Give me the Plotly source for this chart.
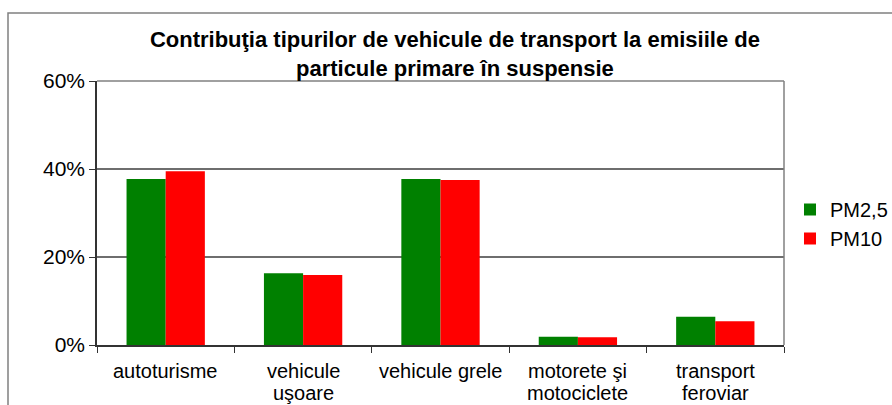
import plotly.graph_objects as go

# Vehicle categories and their share of primary particulate emissions (%)
categories = [
    "autoturisme",
    "vehicule<br>uşoare",
    "vehicule grele",
    "motorete şi<br>motociclete",
    "transport<br>feroviar",
]
pm25 = [37.7, 16.3, 37.7, 1.9, 6.4]
pm10 = [39.5, 15.9, 37.5, 1.75, 5.4]
y_ticks = [0, 20, 40, 60]
y_tick_labels = ["0%", "20%", "40%", "60%"]

FONT = "Liberation Sans, Arial, sans-serif"

fig = go.Figure()
fig.add_trace(go.Bar(name="PM2,5", x=categories, y=pm25,
                     marker=dict(color="#008000", line=dict(width=0))))
fig.add_trace(go.Bar(name="PM10", x=categories, y=pm10,
                     marker=dict(color="#ff0000", line=dict(width=0))))

W, H = 892, 405
L, R, T, B = 97, 108, 81, 60
plot_w = W - L - R
plot_h = H - T - B


def px_x(px):
    return (px - L) / plot_w


def px_y(py):
    return (H - B - py) / plot_h


fig.update_layout(
    width=W, height=H,
    margin=dict(l=L, r=R, t=T, b=B, autoexpand=False),
    paper_bgcolor="white",
    plot_bgcolor="white",
    barmode="group",
    bargap=0.43,
    bargroupgap=0,
    font=dict(family=FONT, size=20, color="#000000"),
    title=dict(
        text="Contribuţia tipurilor de vehicule de transport la emisiile de<br>particule primare în suspensie",
        font=dict(family=FONT, size=22, color="#000000", weight="bold"),
        x=0.51, xanchor="center",
        y=1 - 47 / H, yanchor="top",
    ),
    legend=dict(
        x=px_x(790), y=px_y(190), xanchor="left", yanchor="top",
        font=dict(family=FONT, size=20),
        bgcolor="rgba(0,0,0,0)",
        itemwidth=30,
        tracegroupgap=0,
    ),
    showlegend=True,
)

fig.update_xaxes(
    type="category",
    showline=True, linecolor="#333333", linewidth=1.5,
    ticks="outside", tickson="boundaries", ticklen=6, tickcolor="#333333",
    showticklabels=False,
    showgrid=False,
)
fig.update_yaxes(
    range=[0, 60],
    tickvals=y_ticks, ticktext=y_tick_labels,
    showline=True, linecolor="#333333", linewidth=1.5,
    ticks="outside", ticklen=6, tickcolor="#333333",
    tickfont=dict(family=FONT, size=21),
    showgrid=True, gridcolor="#6e6e6e", gridwidth=1.5,
    zeroline=False,
)

# Category labels, one annotation per line so the line spacing stays tight
LINE_CENTERS = [371, 393]
for cat in categories:
    for i, line in enumerate(cat.split("<br>")):
        fig.add_annotation(
            x=cat, xref="x", y=px_y(LINE_CENTERS[i]), yref="paper",
            text=line, showarrow=False,
            xanchor="center", yanchor="middle",
            font=dict(family=FONT, size=20, color="#000000"),
        )

# Plot-area border on the top and right sides
fig.add_shape(type="line", xref="paper", yref="paper", x0=0, x1=1, y0=1, y1=1,
              line=dict(color="#808080", width=1.5))
fig.add_shape(type="line", xref="paper", yref="paper", x0=1, x1=1, y0=0, y1=1,
              line=dict(color="#808080", width=1.5))
# Outer chart frame
fig.add_shape(type="rect", xref="paper", yref="paper",
              x0=px_x(8), x1=px_x(900), y0=px_y(420), y1=px_y(13),
              line=dict(color="#808080", width=1.5), layer="below")

fig.write_html("out.html")
